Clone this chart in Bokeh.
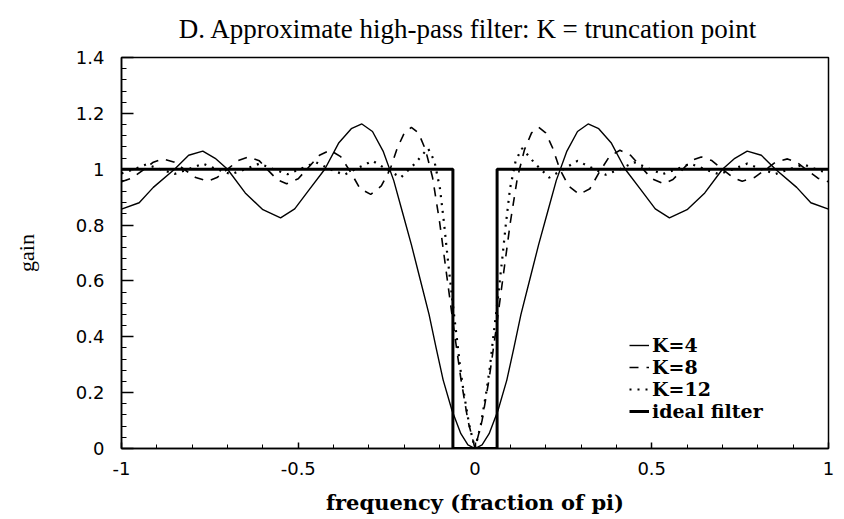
from bokeh.plotting import figure
from bokeh.models import Range1d, FixedTicker, Legend, LegendItem, CustomJSTickFormatter
from bokeh.embed import file_html
from bokeh.resources import INLINE

# ---- data (frequency as fraction of pi, gain) ----
x_k4 = [-1.0, -0.95, -0.91, -0.85, -0.81, -0.77, -0.735, -0.70, -0.65, -0.60,
        -0.55, -0.51, -0.47, -0.425, -0.385, -0.35, -0.32, -0.29, -0.26, -0.23,
        -0.205, -0.18, -0.155, -0.13, -0.11, -0.09, -0.065, -0.04, -0.02,
        0.0, 0.02, 0.04, 0.065, 0.09, 0.11, 0.13, 0.155, 0.18, 0.205, 0.23,
        0.26, 0.29, 0.32, 0.35, 0.385, 0.425, 0.47, 0.51, 0.55, 0.60,
        0.65, 0.70, 0.735, 0.77, 0.81, 0.85, 0.91, 0.95, 1.0]
g_k4 = [0.857, 0.88, 0.935, 1.0, 1.05, 1.065, 1.039, 1.0, 0.915, 0.855,
        0.826, 0.858, 0.925, 1.0, 1.095, 1.145, 1.162, 1.135, 1.065, 0.96,
        0.845, 0.73, 0.605, 0.48, 0.36, 0.245, 0.136, 0.053, 0.013,
        0.0, 0.013, 0.053, 0.136, 0.245, 0.36, 0.48, 0.605, 0.73, 0.845, 0.96,
        1.065, 1.135, 1.162, 1.145, 1.095, 1.0, 0.925, 0.858, 0.826, 0.855,
        0.915, 1.0, 1.039, 1.065, 1.05, 1.0, 0.935, 0.88, 0.857]

x_k8 = [-1.0, -0.97, -0.94, -0.91, -0.884, -0.85, -0.82, -0.79, -0.756, -0.73,
        -0.70, -0.67, -0.64, -0.61, -0.585, -0.56, -0.533, -0.50, -0.47, -0.44,
        -0.41, -0.38, -0.352, -0.325, -0.295, -0.265, -0.24, -0.22, -0.20, -0.18,
        -0.16, -0.14, -0.12, -0.10, -0.08, -0.06, -0.04, -0.02,
        0.0, 0.02, 0.04, 0.06, 0.08, 0.10, 0.12, 0.14, 0.16, 0.18,
        0.20, 0.22, 0.24, 0.265, 0.295, 0.325, 0.352, 0.38, 0.41, 0.44,
        0.47, 0.50, 0.533, 0.56, 0.585, 0.61, 0.64, 0.67, 0.70, 0.73,
        0.756, 0.79, 0.82, 0.85, 0.884, 0.91, 0.94, 0.97, 1.0]
g_k8 = [0.955, 0.968, 0.996, 1.025, 1.037, 1.025, 0.997, 0.97, 0.957, 0.97,
        1.0, 1.031, 1.044, 1.03, 0.996, 0.963, 0.948, 0.966, 1.008, 1.05,
        1.068, 1.045, 0.99, 0.93, 0.91, 0.94, 1.0, 1.075, 1.13, 1.15,
        1.13, 1.07, 0.97, 0.81, 0.62, 0.43, 0.25, 0.10,
        0.0, 0.10, 0.25, 0.43, 0.62, 0.81, 0.97, 1.07, 1.13, 1.15,
        1.13, 1.075, 1.0, 0.94, 0.91, 0.93, 0.99, 1.045, 1.068, 1.05,
        1.008, 0.966, 0.948, 0.963, 0.996, 1.03, 1.044, 1.031, 1.0, 0.97,
        0.957, 0.97, 0.997, 1.025, 1.037, 1.025, 0.996, 0.968, 0.955]

x_k12 = [-1.0, -0.965, -0.93, -0.89, -0.85, -0.81, -0.77, -0.73, -0.69, -0.65,
         -0.61, -0.57, -0.53, -0.49, -0.45, -0.41, -0.37, -0.33, -0.29, -0.25,
         -0.21, -0.17, -0.133, -0.115, -0.099, -0.087, -0.078, -0.064, -0.05, -0.042,
         -0.033, -0.0165,
         0.0, 0.0165, 0.033, 0.042, 0.05, 0.064, 0.078, 0.087, 0.099, 0.115,
         0.133, 0.17, 0.21, 0.25, 0.29, 0.33, 0.37, 0.41, 0.45, 0.49,
         0.53, 0.57, 0.61, 0.65, 0.69, 0.73, 0.77, 0.81, 0.85, 0.89,
         0.93, 0.965, 1.0]
g_k12 = [0.985, 1.0, 1.017, 1.0, 0.983, 1.0, 1.02, 1.0, 0.982, 1.0,
         1.02, 1.0, 0.982, 1.003, 1.025, 1.0, 0.98, 1.005, 1.03, 1.0,
         0.97, 1.02, 1.075, 1.03, 0.93, 0.80, 0.69, 0.53, 0.38, 0.29,
         0.21, 0.085,
         0.0, 0.085, 0.21, 0.29, 0.38, 0.53, 0.69, 0.80, 0.93, 1.03,
         1.075, 1.02, 0.97, 1.0, 1.03, 1.005, 0.98, 1.0, 1.025, 1.003,
         0.982, 1.0, 1.02, 1.0, 0.982, 1.0, 1.02, 1.0, 0.983, 1.0,
         1.017, 1.0, 0.985]

x_ideal = [-1.0, -0.0625, -0.0625, 0.0625, 0.0625, 1.0]
g_ideal = [1.0, 1.0, 0.0, 0.0, 1.0, 1.0]

x_ticks = [-1, -0.5, 0, 0.5, 1]
y_ticks = [0, 0.2, 0.4, 0.6, 0.8, 1, 1.2, 1.4]

legend_labels = ["K=4", "K=8", "K=12", "ideal filter"]
title_text = "D.  Approximate high-pass filter:  K = truncation point"
x_title = "frequency (fraction of pi)"
y_title = "gain"

# ---- figure ----
p = figure(width=844, height=519, x_range=Range1d(-1, 1), y_range=Range1d(0, 1.4),
           output_backend="svg", toolbar_location=None,
           min_border_left=121, min_border_right=16, min_border_top=57, min_border_bottom=71)
p.background_fill_color = "white"
p.border_fill_color = "white"
p.outline_line_color = "black"
p.outline_line_width = 1.5
p.xgrid.visible = False
p.ygrid.visible = False

p.title.text = title_text
p.title.align = "center"
p.title.vertical_align = "top"
p.title.text_font = "Liberation Serif"
p.title.text_font_size = "27px"
p.title.text_font_style = "normal"
p.title.text_color = "black"
p.title.standoff = 24

fmt = CustomJSTickFormatter(code="return String(Math.round(tick*100)/100);")

xa = p.xaxis[0]
xa.ticker = FixedTicker(ticks=x_ticks, minor_ticks=[i / 10 for i in range(-10, 11)])
xa.formatter = fmt
xa.major_tick_in = 6
xa.major_tick_out = 0
xa.minor_tick_in = 4
xa.minor_tick_out = 0
xa.axis_line_width = 1.5
xa.major_tick_line_width = 1.5
xa.major_label_text_font = "DejaVu Sans"
xa.major_label_text_font_size = "18px"
xa.major_label_text_color = "black"
xa.major_label_standoff = 13
xa.axis_label = x_title
xa.axis_label_text_font = "DejaVu Serif"
xa.axis_label_text_font_style = "bold"
xa.axis_label_text_font_size = "21px"
xa.axis_label_text_color = "black"
xa.axis_label_standoff = 12

ya = p.yaxis[0]
ya.ticker = FixedTicker(ticks=y_ticks, minor_ticks=[i * 0.04 for i in range(0, 36)])
ya.formatter = fmt
ya.major_tick_in = 12
ya.major_tick_out = 0
ya.minor_tick_in = 5
ya.minor_tick_out = 0
ya.axis_line_width = 1.5
ya.major_tick_line_width = 1.5
ya.major_label_text_font = "DejaVu Sans"
ya.major_label_text_font_size = "18px"
ya.major_label_text_color = "black"
ya.major_label_standoff = 17
ya.axis_label = y_title
ya.axis_label_text_font = "Liberation Serif"
ya.axis_label_text_font_style = "normal"
ya.axis_label_text_font_size = "22px"
ya.axis_label_text_color = "black"
ya.axis_label_standoff = 34

r4 = p.line(x_k4, g_k4, line_color="black", line_width=1.4)
r8 = p.line(x_k8, g_k8, line_color="black", line_width=1.6, line_dash="9 8")
r12 = p.line(x_k12, g_k12, line_color="black", line_width=2.2, line_dash="2 6")
ri = p.line(x_ideal, g_ideal, line_color="black", line_width=3)

legend = Legend(items=[LegendItem(label=legend_labels[0], renderers=[r4]),
                       LegendItem(label=legend_labels[1], renderers=[r8]),
                       LegendItem(label=legend_labels[2], renderers=[r12]),
                       LegendItem(label=legend_labels[3], renderers=[ri])],
                location=(508, 26))
legend.label_text_font = "DejaVu Serif"
legend.label_text_font_style = "bold"
legend.label_text_font_size = "19px"
legend.label_text_color = "black"
legend.glyph_width = 20
legend.glyph_height = 20
legend.label_height = 20
legend.label_standoff = 3
legend.spacing = -3
legend.padding = 0
legend.margin = 0
legend.border_line_color = None
legend.background_fill_alpha = 0
p.add_layout(legend)

open("out.html", "w").write(file_html(p, INLINE))
